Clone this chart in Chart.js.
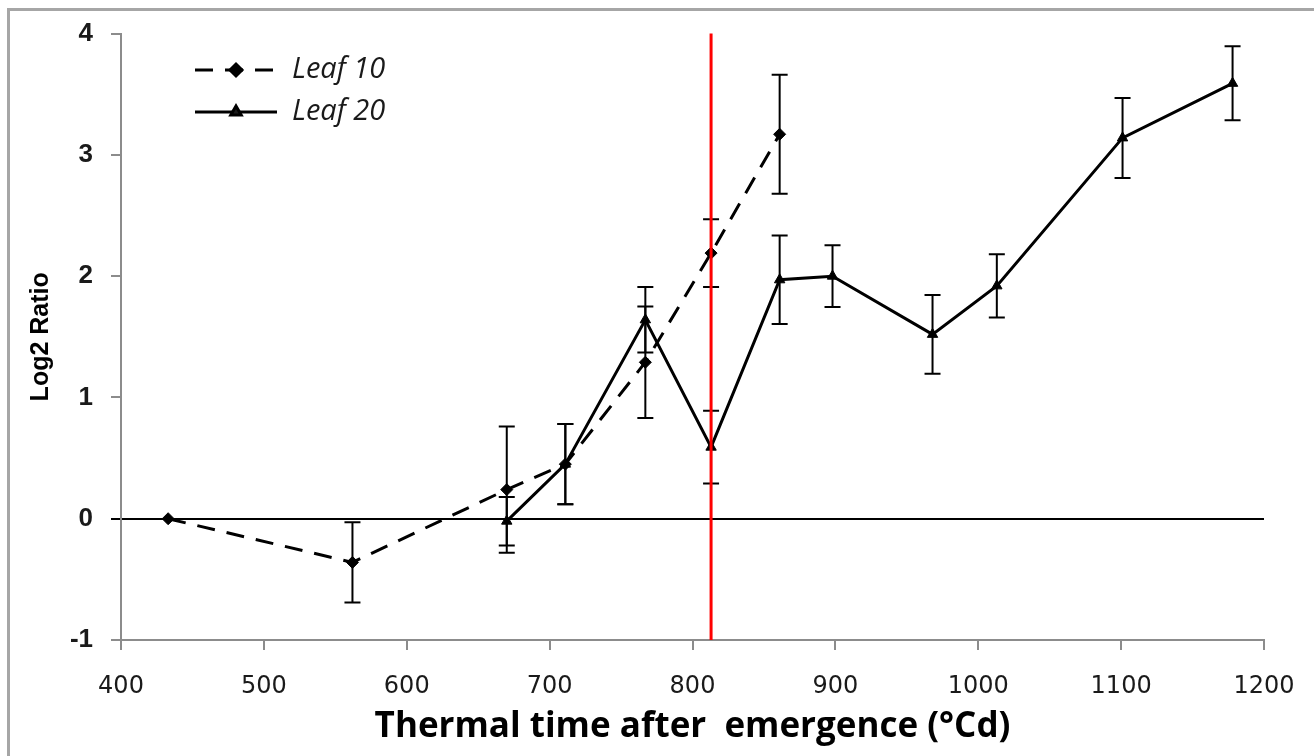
<!DOCTYPE html>
<html>
<head>
<meta charset="utf-8">
<script src="https://cdn.jsdelivr.net/npm/chart.js@4/dist/chart.umd.min.js"></script>
<style>
  html, body { margin: 0; padding: 0; background: #fff; }
  #wrap { position: relative; width: 1314px; height: 756px; overflow: hidden; }
  #frame { position: absolute; left: 7px; top: 8px; width: 1400px; height: 800px;
    border-left: 3px solid #a6a6a6; border-top: 3px solid #a6a6a6; }
  canvas { position: absolute; left: 0; top: 0; }
</style>
</head>
<body>
<div id="wrap">
  <div id="frame"></div>
  <canvas id="myChart" width="1314" height="756"></canvas>
</div>
<script>
// DATA
let leaf10X = [433, 562, 670, 711, 767, 813, 861];
let leaf10Y = [0, -0.36, 0.24, 0.45, 1.29, 2.19, 3.17];
let leaf10Err = [0, 0.33, 0.52, 0.33, 0.46, 0.28, 0.49];

let leaf20X = [670, 711, 767, 813, 861, 898, 968, 1013, 1101, 1178];
let leaf20Y = [-0.02, 0.45, 1.64, 0.59, 1.97, 2.0, 1.52, 1.92, 3.14, 3.59];
let leaf20Err = [0.2, 0.33, 0.27, 0.3, 0.365, 0.255, 0.325, 0.26, 0.33, 0.305];

let seriesNames = ["Leaf 10", "Leaf 20"];
let markerLine = 813; // red vertical line (°Cd)
let xTicks = [400, 500, 600, 700, 800, 900, 1000, 1100, 1200];
let yTicks = [-1, 0, 1, 2, 3, 4];

function toPoints(xs, ys, errs) {
	let pts = [];
	for (let i = 0; i < xs.length; i++) {
		pts.push({ x: xs[i], y: ys[i], err: errs[i] });
	}
	return pts;
}

// error bars, red line and legend
const extras = {
	id: "extras",
	afterDatasetsDraw(chart) {
		let ctx = chart.ctx;
		let xs = chart.scales.x;
		let ys = chart.scales.y;
		let area = chart.chartArea;
		ctx.save();
		ctx.strokeStyle = "#000";
		ctx.lineWidth = 2;
		chart.data.datasets.forEach((ds) => {
			ds.data.forEach((p) => {
				if (!p.err) return;
				let px = xs.getPixelForValue(p.x);
				let top = ys.getPixelForValue(p.y + p.err);
				let bot = ys.getPixelForValue(p.y - p.err);
				ctx.beginPath();
				ctx.moveTo(px, top);
				ctx.lineTo(px, bot);
				ctx.moveTo(px - 8, top);
				ctx.lineTo(px + 8, top);
				ctx.moveTo(px - 8, bot);
				ctx.lineTo(px + 8, bot);
				ctx.stroke();
			});
		});

		// red line
		let rx = xs.getPixelForValue(markerLine);
		ctx.strokeStyle = "#ff0000";
		ctx.lineWidth = 3;
		ctx.beginPath();
		ctx.moveTo(rx, area.top);
		ctx.lineTo(rx, area.bottom);
		ctx.stroke();

		// legend
		let lx = 195;
		let ly = [70, 112];
		chart.data.datasets.forEach((ds, i) => {
			ctx.strokeStyle = "#000";
			ctx.lineWidth = 3;
			ctx.setLineDash(ds.borderDash || []);
			ctx.beginPath();
			ctx.moveTo(lx, ly[i]);
			ctx.lineTo(lx + 82, ly[i]);
			ctx.stroke();
			ctx.setLineDash([]);
			Chart.helpers.drawPoint(ctx, { pointStyle: ds.pointStyle, radius: 6, borderWidth: 1 }, lx + 41, ly[i]);
			ctx.fillStyle = "#1a1a1a";
			ctx.font = "italic 29px 'Open Sans'";
			ctx.textBaseline = "middle";
			ctx.fillText(ds.label, lx + 97, ly[i]);
		});
		ctx.restore();
	},
};

let ctx = document.getElementById("myChart").getContext("2d");
let myChart = new Chart(ctx, {
	type: "scatter",
	data: {
		datasets: [
			{
				label: seriesNames[0],
				data: toPoints(leaf10X, leaf10Y, leaf10Err),
				showLine: true,
				borderColor: "#000",
				backgroundColor: "#000",
				borderWidth: 3,
				borderDash: [18, 12],
				pointStyle: "rectRot",
				pointRadius: 6,
				pointBorderWidth: 1,
			},
			{
				label: seriesNames[1],
				data: toPoints(leaf20X, leaf20Y, leaf20Err),
				showLine: true,
				borderColor: "#000",
				backgroundColor: "#000",
				borderWidth: 3,
				pointStyle: "triangle",
				pointRadius: 6,
				pointBorderWidth: 1,
			},
		],
	},
	options: {
		responsive: false,
		animation: false,
		layout: { padding: { top: 31, right: 50, left: 0, bottom: 0 } },
		plugins: {
			legend: { display: false },
			tooltip: { enabled: false },
		},
		scales: {
			x: {
				type: "linear",
				min: 400,
				max: 1200,
				afterFit: (scale) => {
					scale.height = 116;
					scale.paddingLeft = 0;
					scale.paddingRight = 0;
				},
				afterBuildTicks: (scale) => { scale.ticks = xTicks.map((v) => ({ value: v })); },
				border: { color: "#8c8c8c", width: 2 },
				grid: { drawOnChartArea: false, tickLength: 10, tickColor: "#8c8c8c", lineWidth: 2 },
				ticks: {
					color: "#1a1a1a",
					font: { family: "'DejaVu Sans'", size: 24 },
					padding: 22,
					maxRotation: 0,
					callback: (v) => String(v),
				},
				title: {
					display: true,
					text: "Thermal time after  emergence (°Cd)",
					color: "#000",
					font: { family: "'Open Sans'", size: 35, weight: "bold" },
					padding: { top: 0, bottom: 8 },
				},
			},
			y: {
				min: -1,
				max: 4,
				afterFit: (scale) => { scale.width = 121; },
				afterBuildTicks: (scale) => { scale.ticks = yTicks.map((v) => ({ value: v })); },
				border: { color: "#8c8c8c", width: 2 },
				grid: {
					color: (c) => (c.tick && c.tick.value === 0 ? "#000" : "rgba(0,0,0,0)"),
					tickColor: (c) => (c.tick && c.tick.value === 0 ? "#000" : "#8c8c8c"),
					lineWidth: 2,
					tickLength: 10,
				},
				ticks: {
					color: "#1a1a1a",
					font: { family: "'Liberation Sans', Arial", size: 26, weight: "bold" },
					padding: 18,
				},
				title: {
					display: true,
					text: "Log2 Ratio",
					color: "#000",
					font: { family: "'Liberation Sans', Arial", size: 25, weight: "bold" },
					padding: { top: 26, bottom: 0 },
				},
			},
		},
	},
	plugins: [extras],
});
</script>
</body>
</html>
